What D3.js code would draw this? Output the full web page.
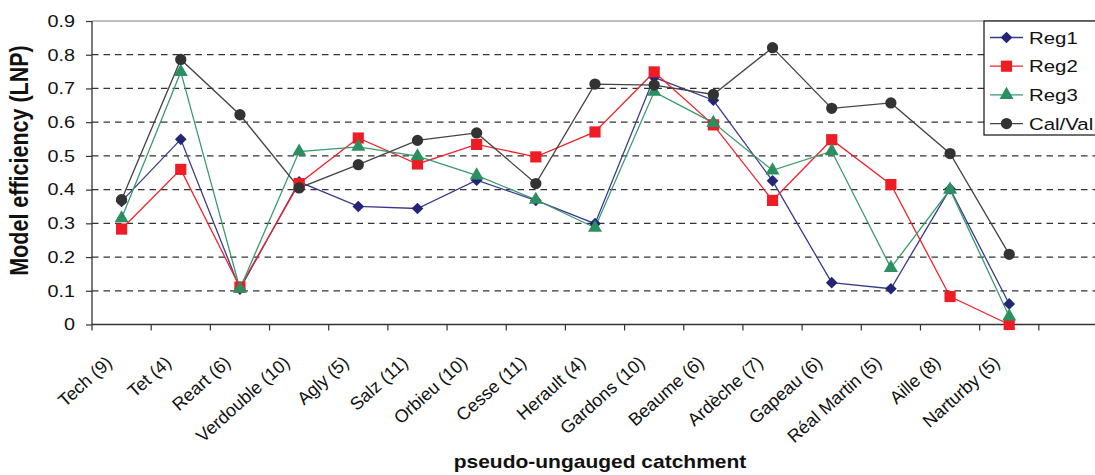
<!DOCTYPE html>
<html><head><meta charset="utf-8">
<script src="https://cdn.jsdelivr.net/npm/d3@7/dist/d3.min.js"></script>
<style>body{margin:0;background:#fff;} svg{font-family:"Liberation Sans",Arial,sans-serif;}</style>
</head><body><svg id="c" width="1095" height="475"></svg>
<script>
const categories = ["Tech (9)","Tet (4)","Reart (6)","Verdouble (10)","Agly (5)","Salz (11)","Orbieu (10)","Cesse (11)","Herault (4)","Gardons (10)","Beaume (6)","Ardèche (7)","Gapeau (6)","Réal Martin (5)","Aille (8)","Narturby (5)",""];
const reg1   = [0.365,0.549,0.105,0.423,0.350,0.344,0.428,0.368,0.299,0.733,0.665,0.426,0.124,0.106,0.402,0.061];
const reg2   = [0.283,0.460,0.111,0.418,0.553,0.476,0.534,0.497,0.571,0.749,0.592,0.368,0.548,0.415,0.083,0.000];
const reg3   = [0.315,0.749,0.106,0.513,0.527,0.499,0.442,0.370,0.287,0.690,0.598,0.457,0.514,0.168,0.400,0.024];
const calval = [0.370,0.786,0.622,0.405,0.474,0.546,0.568,0.418,0.713,0.710,0.682,0.821,0.641,0.657,0.507,0.208];
const yTicks = [0,0.1,0.2,0.3,0.4,0.5,0.6,0.7,0.8,0.9];
const seriesNames = ["Reg1","Reg2","Reg3","Cal/Val"];

const SX = 1.2; // horizontal stretch of the original figure's text
const svg = d3.select("#c");
const L = 92, R = 1098, T = 21, B = 324.5;
const x = d3.scaleBand().domain(categories.map((d,i)=>i)).range([L,R]).padding(0);
const y = d3.scaleLinear().domain([0,0.9]).range([B,T]);

// grid
svg.append("g").selectAll("line").data(yTicks.filter(d=>d>0 && d<0.9)).join("line")
  .attr("x1",L).attr("x2",1095).attr("y1",d=>y(d)).attr("y2",d=>y(d))
  .attr("stroke","#333").attr("stroke-width",1.2).attr("stroke-dasharray","6.5,5");
svg.append("line").attr("x1",L).attr("x2",1095).attr("y1",T).attr("y2",T)
  .attr("stroke","#aaa").attr("stroke-width",1.5);

// y axis
const yAxis = svg.append("g").attr("transform",`translate(${L},0)`)
  .call(d3.axisLeft(y).tickValues(yTicks).tickFormat(d=>d===0?"0":d3.format(".1f")(d)).tickSize(6).tickPadding(8));
yAxis.select(".domain").attr("stroke","#333").attr("stroke-width",1.3).attr("d",`M-0,${T}V${B}`);
yAxis.selectAll(".tick line").attr("stroke","#333").attr("stroke-width",1.2);
yAxis.selectAll("text").attr("font-size",16.5).attr("fill","#111").attr("font-family","Liberation Sans, Arial, sans-serif")
  .attr("x",-17/SX).attr("transform",`scale(${SX},1)`);

// x axis
const xTickPos = d3.range(categories.length+1).map(i=>L + i*x.bandwidth());
svg.append("line").attr("x1",L).attr("x2",1095).attr("y1",B).attr("y2",B).attr("stroke","#333").attr("stroke-width",1.3);
svg.append("g").selectAll("line").data(xTickPos).join("line")
  .attr("x1",d=>d).attr("x2",d=>d).attr("y1",B).attr("y2",B+6).attr("stroke","#333").attr("stroke-width",1.2);
svg.append("g").selectAll("text").data(categories).join("text")
  .attr("transform",(d,i)=>`translate(${x(i)+x.bandwidth()/2-12.5},${B+35}) rotate(-42)`)
  .attr("text-anchor","end").attr("font-size",18).attr("fill","#111").attr("dy","0.35em")
  .text(d=>d);

// axis titles
svg.append("text").attr("transform",`translate(19,160.5) scale(${SX},1) rotate(-90)`)
  .attr("text-anchor","middle").attr("dy","0.36em").attr("font-size",21.5).attr("font-weight","bold").attr("fill","#111")
  .text("Model efficiency (LNP)");
svg.append("text").attr("transform",`translate(600,467.5) scale(${SX},1)`).attr("text-anchor","middle")
  .attr("font-size",17.5).attr("font-weight","bold").attr("fill","#111").text("pseudo-ungauged catchment");

// series
const series = [
  {name:"Reg1", vals:reg1, line:"#3a3a8c", fill:"#232577", shape:d3.symbolSquare, size:68, rot:45},
  {name:"Reg2", vals:reg2, line:"#f0242c", fill:"#ee1c25", shape:d3.symbolSquare, size:125, rot:0},
  {name:"Reg3", vals:reg3, line:"#3a9a6e", fill:"#2c8f5f", shape:d3.symbolTriangle, size:85, rot:0},
  {name:"Cal/Val", vals:calval, line:"#444", fill:"#333", shape:d3.symbolCircle, size:100, rot:0}
];
const cx = i => x(i)+x.bandwidth()/2;
const line = d3.line().x((d,i)=>cx(i)).y(d=>y(d));
series.forEach(s=>{
  svg.append("path").attr("d",line(s.vals)).attr("fill","none").attr("stroke",s.line).attr("stroke-width",1.3);
});
series.forEach(s=>{
  svg.append("g").selectAll("path").data(s.vals).join("path")
    .attr("d",d3.symbol().type(s.shape).size(s.size))
    .attr("transform",(d,i)=>`translate(${cx(i)},${y(d)}) rotate(${s.rot})`)
    .attr("fill",s.fill);
});

// legend
const lg = svg.append("g");
lg.append("rect").attr("x",984).attr("y",21).attr("width",120).attr("height",114)
  .attr("fill","#fff").attr("stroke","#111").attr("stroke-width",1.2);
series.forEach((s,k)=>{
  const yy = 37.5 + k*28.7;
  lg.append("line").attr("x1",990).attr("x2",1023).attr("y1",yy).attr("y2",yy).attr("stroke",s.line).attr("stroke-width",1.3);
  lg.append("path").attr("d",d3.symbol().type(s.shape).size(s.size)).attr("transform",`translate(1006.5,${yy}) rotate(${s.rot})`).attr("fill",s.fill);
  lg.append("text").attr("transform",`translate(1029,${yy}) scale(${SX},1)`).attr("dy","0.36em").attr("font-size",17).attr("fill","#111").text(s.name);
});
</script></body></html>
